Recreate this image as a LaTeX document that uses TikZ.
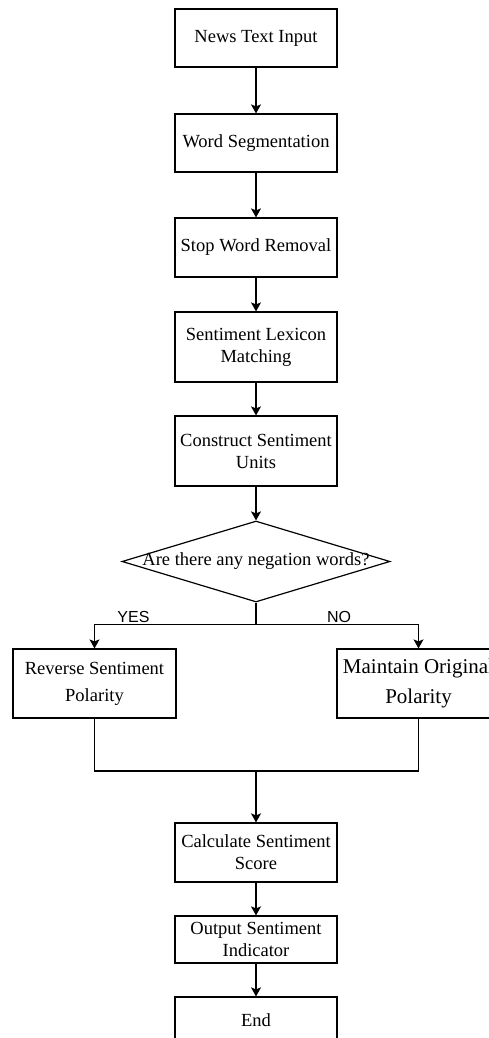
\documentclass[tikz,border=0pt]{standalone}
\usepackage{fontspec}
\setmainfont{Liberation Serif}
\newfontfamily\labelsans{Liberation Sans}
\usetikzlibrary{arrows.meta,shapes.geometric}
\tikzset{
  box/.style={draw, line width=1.2pt, minimum width=162pt, inner sep=0pt, align=center,
              font=\fontsize{18.5}{22}\selectfont},
  conn/.style={line width=1.2pt, -{Stealth[width=10pt,length=9pt,inset=2pt]}},
  plain/.style={line width=1.2pt},
  yn/.style={font=\labelsans\fontsize{16}{18}\selectfont, inner sep=0pt}
}
\begin{document}
\begin{tikzpicture}[x=1pt,y=-1pt]
\useasboundingbox (0,0) rectangle (489,1038);
\clip (0,0) rectangle (489,1038);
\node[box, minimum height=58pt] (n1) at (256,38) {News Text Input};
\node[box, minimum height=58pt] (n2) at (256,143) {Word Segmentation};
\node[box, minimum height=59pt] (n3) at (256,247.5) {Stop Word Removal};
\node[box, minimum height=70pt] (n4) at (256,347) {Sentiment Lexicon\\Matching};
\node[box, minimum height=70pt] (n5) at (256,451) {Construct Sentiment\\Units};
\node[diamond, draw, line width=1.2pt, minimum width=268pt, minimum height=81pt, inner sep=0pt] (dec) at (256,561.5) {};
\node[font=\fontsize{18.5}{22}\selectfont, inner sep=0pt] (dectext) at (dec.center) {Are there any negation words?};
\node[box, minimum width=163pt, minimum height=69pt, font=\fontsize{18.5}{27}\selectfont] (rev) at (94.5,683.5) {Reverse Sentiment\\Polarity};
\node[box, minimum width=163pt, minimum height=69pt, font=\fontsize{21}{30}\selectfont] (keep) at (418.5,683.5) {Maintain Original\\Polarity};
\node[box, minimum height=59pt] (calc) at (256,852.5) {Calculate Sentiment\\Score};
\node[box, minimum height=47pt] (outp) at (256,939.5) {Output Sentiment\\Indicator};
\node[box, minimum height=46pt] (endn) at (256,1020) {End};
\coordinate (split) at (256,624.5);
\coordinate (splitL) at (94.5,624.5);
\coordinate (splitR) at (418.5,624.5);
\coordinate (merge) at (256,771);
\coordinate (mergeL) at (94.5,771);
\coordinate (mergeR) at (418.5,771);
\draw[conn] (n1) -- (n2);
\draw[conn] (n2) -- (n3);
\draw[conn] (n3) -- (n4);
\draw[conn] (n4) -- (n5);
\draw[conn] (n5) -- (dec.north);
\draw[plain] (dec.south) -- (split);
\draw[conn] (split) -- (splitL) -- (rev.north);
\draw[conn] (split) -- (splitR) -- (keep.north);
\node[yn] (yes) at (133.5,617) {YES};
\node[yn] (no) at (339,617) {NO};
\draw[plain] (rev.south) -- (mergeL) -- (mergeR) -- (keep.south);
\draw[conn] (merge) -- (calc.north);
\draw[conn] (calc) -- (outp);
\draw[conn] (outp) -- (endn);
\end{tikzpicture}
\end{document}
